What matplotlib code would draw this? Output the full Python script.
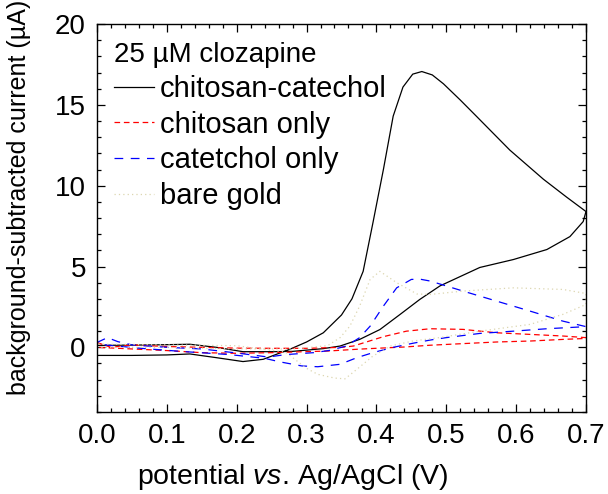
import numpy as np
import matplotlib
matplotlib.use('Agg')
import matplotlib.pyplot as plt

plt.rcParams['font.family'] = 'Liberation Sans'
plt.rcParams['mathtext.fontset'] = 'custom'
plt.rcParams['mathtext.it'] = 'Liberation Sans:italic'
plt.rcParams['mathtext.rm'] = 'Liberation Sans'

# chitosan-catechol, forward (anodic) and reverse sweeps
cc_fwd_v = [0.0, 0.05, 0.1, 0.133, 0.171, 0.209, 0.238, 0.257, 0.276, 0.3, 0.324, 0.35, 0.365,
            0.381, 0.395, 0.41, 0.424, 0.438, 0.452, 0.465, 0.48, 0.496, 0.52, 0.543, 0.567,
            0.591, 0.615, 0.639, 0.672, 0.7]
cc_fwd_i = [-0.5, -0.5, -0.47, -0.41, -0.64, -0.88, -0.74, -0.43, -0.12, 0.33, 0.9, 2.0, 3.0,
            4.7, 7.7, 11.0, 14.3, 16.1, 16.9, 17.06, 16.85, 16.3, 15.3, 14.3, 13.25,
            12.2, 11.3, 10.4, 9.3, 8.4]
cc_rev_v = [0.7, 0.696, 0.677, 0.644, 0.596, 0.548, 0.491, 0.462, 0.434, 0.405, 0.376, 0.348,
            0.324, 0.28, 0.252, 0.209, 0.171, 0.133, 0.08, 0.0]
cc_rev_i = [8.4, 7.78, 6.85, 6.05, 5.43, 4.94, 3.8, 2.96, 2.04, 1.1, 0.49, 0.08,
            -0.08, -0.25, -0.27, -0.27, 0.0, 0.19, 0.15, 0.12]

# chitosan only
ch_fwd_v = [0.0, 0.02, 0.05, 0.1, 0.15, 0.2, 0.25, 0.3, 0.35, 0.367, 0.39, 0.41, 0.443, 0.477,
            0.524, 0.572, 0.62, 0.667, 0.7]
ch_fwd_i = [0.3, 0.0, 0.15, 0.05, 0.0, -0.05, -0.06, -0.06, 0.0, 0.08, 0.39, 0.66, 1.0, 1.15,
            1.11, 0.9, 0.8, 0.7, 0.6]
ch_rev_v = [0.7, 0.667, 0.62, 0.572, 0.524, 0.477, 0.44, 0.42, 0.39, 0.372, 0.33, 0.25, 0.2,
            0.15, 0.1, 0.05, 0.0]
ch_rev_i = [0.55, 0.49, 0.39, 0.33, 0.23, 0.13, 0.02, -0.02, -0.08, -0.12, -0.23, -0.33, -0.37,
            -0.33, -0.2, -0.1, 0.0]

# catechol only
ca_fwd_v = [0.0, 0.015, 0.03, 0.05, 0.1, 0.15, 0.2, 0.245, 0.27, 0.31, 0.333, 0.357, 0.376,
            0.391, 0.41, 0.429, 0.45, 0.462, 0.477, 0.524, 0.572, 0.62, 0.667, 0.7]
ca_fwd_i = [0.3, 0.6, 0.35, 0.15, 0.0, -0.1, -0.35, -0.6, -0.45, -0.33, -0.19, 0.08, 0.6,
            1.31, 2.55, 3.68, 4.2, 4.22, 4.1, 3.48, 2.86, 2.24, 1.62, 1.28]
ca_rev_v = [0.7, 0.644, 0.596, 0.548, 0.5, 0.477, 0.452, 0.424, 0.395, 0.372, 0.348, 0.316,
            0.293, 0.262, 0.24, 0.19, 0.12, 0.06, 0.0]
ca_rev_i = [1.28, 1.15, 1.0, 0.86, 0.6, 0.45, 0.25, 0.0, -0.33, -0.64, -1.05, -1.2,
            -1.15, -0.9, -0.68, -0.45, -0.25, -0.05, 0.2]

# bare gold
bg_fwd_v = [0.0, 0.1, 0.2, 0.28, 0.33, 0.348, 0.362, 0.376, 0.391, 0.405, 0.429, 0.458, 0.477,
            0.524, 0.596, 0.667, 0.7]
bg_fwd_i = [0.0, 0.0, -0.1, -0.1, 0.1, 0.6, 1.31, 2.55, 4.2, 4.7, 4.0, 3.3, 3.27,
            3.48, 3.68, 3.58, 3.33]
bg_rev_v = [0.7, 0.667, 0.62, 0.548, 0.49, 0.452, 0.42, 0.395, 0.372, 0.355, 0.34, 0.316, 0.3,
            0.27, 0.2, 0.1, 0.0]
bg_rev_i = [2.65, 2.04, 1.42, 1.0, 0.6, 0.39, 0.08, -0.54, -1.36, -1.95, -1.9, -1.67, -1.3,
            -0.3, 0.1, 0.15, 0.2]

fig = plt.figure(figsize=(6.08, 4.94), dpi=100)
ax = fig.add_axes([0.1595, 0.166, 0.8043, 0.7854])

ax.plot(cc_fwd_v + cc_rev_v, cc_fwd_i + cc_rev_i, color='black', lw=0.9, label='chitosan-catechol')
ax.plot(ch_fwd_v + ch_rev_v, ch_fwd_i + ch_rev_i, color='#ff0000', lw=0.9, dashes=(4.5, 3),
        label='chitosan only')
ax.plot(ca_fwd_v + ca_rev_v, ca_fwd_i + ca_rev_i, color='#0000ff', lw=0.9, dashes=(7, 6),
        label='catetchol only')
ax.plot(bg_fwd_v + bg_rev_v, bg_fwd_i + bg_rev_i, color='#dcd6b0', lw=0.9, dashes=(1, 2.5),
        label='bare gold')

ax.set_xlim(0, 0.7)
ax.set_ylim(-4, 20)
ax.set_xticks(np.arange(0, 0.71, 0.1))
ax.set_xticks(np.arange(0, 0.701, 0.02), minor=True)
ax.set_yticks([0, 5, 10, 15, 20])
ax.set_yticks(np.arange(-4, 20.1, 1), minor=True)
ax.xaxis.set_major_formatter(matplotlib.ticker.FormatStrFormatter('%.1f'))

ax.tick_params(which='both', direction='in', top=True, right=True, labelsize=20, width=0.9)
ax.tick_params(which='major', length=6, pad=8)
ax.tick_params(which='minor', length=3)
for s in ax.spines.values():
    s.set_linewidth(1.0)

ax.set_xlabel(r'potential $\mathit{vs.}\,$Ag/AgCl (V)', fontsize=20.5)
ax.set_ylabel('background-subtracted current (µA)', fontsize=18)
ax.xaxis.set_label_coords(0.40, -0.13)
ax.yaxis.set_label_coords(-0.135, 0.552)

leg = ax.legend(title='25 µM clozapine', loc='upper left', frameon=False, fontsize=21,
                title_fontsize=20, handlelength=1.35, handletextpad=0.2, labelspacing=0.26,
                borderaxespad=0.2, alignment='left')

fig.savefig('out.png', dpi=100)
